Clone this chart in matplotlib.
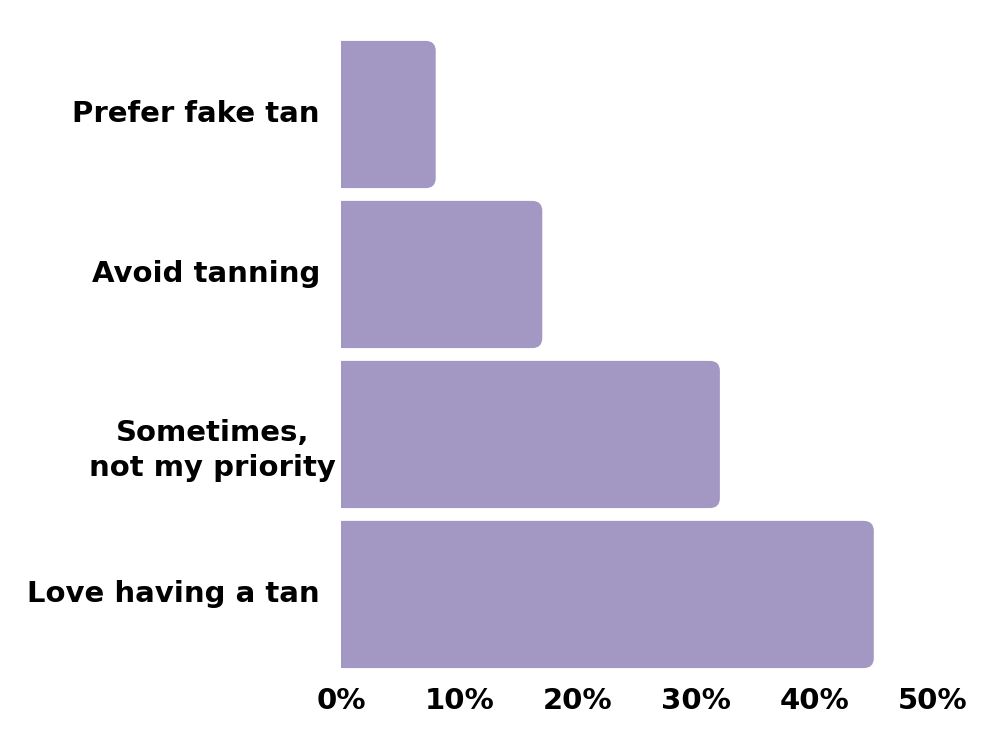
import matplotlib
matplotlib.use("Agg")
import matplotlib.pyplot as plt
from matplotlib.patches import FancyBboxPatch
from matplotlib.transforms import blended_transform_factory, offset_copy

categories = ["Love having a tan", "Sometimes,\nnot my priority", "Avoid tanning", "Prefer fake tan"]
values = [45, 32, 17, 8]
x_ticks = [0, 10, 20, 30, 40, 50]
x_tick_labels = ["0%", "10%", "20%", "30%", "40%", "50%"]

BAR_COLOR = "#A397C3"
FONT = ["DejaVu Sans"]
FS = 21


def main():
    fig = plt.figure(figsize=(10, 7.5), dpi=100, facecolor="white")
    ax = fig.add_axes([0.341, 0.1007, 0.592, 0.8533])
    ax.set_xlim(0, 50)
    ax.set_ylim(-0.5, len(categories) - 0.5)

    bar_h = 0.92
    # px per unit: x ~11.84, y ~160 -> corner radius ~10px
    rx = 10 / 11.84
    aspect = (10 / 160) / rx
    for i, v in enumerate(values):
        patch = FancyBboxPatch((-5, i - bar_h / 2), v + 5, bar_h,
                               boxstyle=f"round,pad=0,rounding_size={rx}",
                               mutation_aspect=aspect,
                               facecolor=BAR_COLOR, edgecolor="none", clip_on=True)
        ax.add_patch(patch)

    # category labels drawn by hand, two-line one sits a bit lower/right
    trans = blended_transform_factory(ax.transAxes, ax.transData)
    for i, cat in enumerate(categories):
        two = "\n" in cat
        dx = -5 if two else -21
        dy = -16 if two else 0
        t = offset_copy(trans, fig=fig, x=dx, y=dy, units="dots")
        ax.text(0, i, cat, transform=t, ha="right", va="center",
                multialignment="center", fontsize=FS, fontweight="bold",
                family=FONT, linespacing=1.3)
    ax.set_yticks([])

    ax.set_xticks(x_ticks)
    ax.set_xticklabels(x_tick_labels, fontsize=FS, fontweight="bold", family=FONT)
    ax.tick_params(axis="x", length=0, pad=9)
    for s in ax.spines.values():
        s.set_visible(False)

    fig.savefig("out.png", dpi=100, facecolor="white")


if __name__ == "__main__":
    main()
